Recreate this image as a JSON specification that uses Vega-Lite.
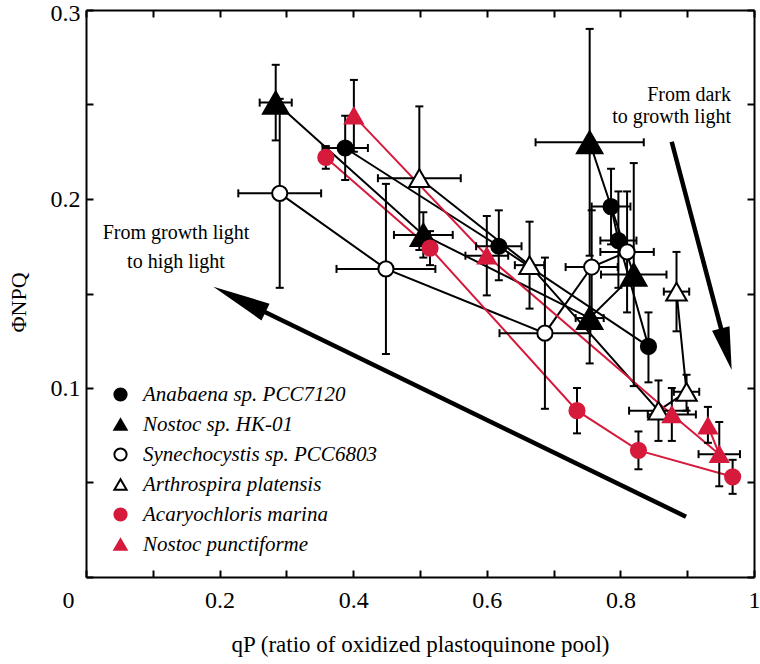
{
  "$schema": "https://vega.github.io/schema/vega-lite/v6.json",
  "width": 668,
  "height": 567,
  "autosize": {"type": "none"},
  "padding": {"left": 86, "top": 10, "right": 6, "bottom": 87},
  "background": "white",
  "datasets": {
    "pts": [
      {"species": "Anabaena sp. PCC7120", "step": 1, "x": 0.786, "y": 0.196, "ylo": 0.176, "yhi": 0.216, "xlo": 0.757, "xhi": 0.815},
      {"species": "Anabaena sp. PCC7120", "step": 2, "x": 0.797, "y": 0.178, "ylo": 0.153, "yhi": 0.204, "xlo": 0.770, "xhi": 0.824},
      {"species": "Anabaena sp. PCC7120", "step": 3, "x": 0.842, "y": 0.122, "ylo": 0.103, "yhi": 0.140},
      {"species": "Anabaena sp. PCC7120", "step": 4, "x": 0.618, "y": 0.175, "ylo": 0.157, "yhi": 0.194, "xlo": 0.584, "xhi": 0.652},
      {"species": "Anabaena sp. PCC7120", "step": 5, "x": 0.388, "y": 0.227, "ylo": 0.210, "yhi": 0.244, "xlo": 0.354, "xhi": 0.422},
      {"species": "Nostoc sp. HK-01", "step": 1, "x": 0.754, "y": 0.230, "ylo": 0.170, "yhi": 0.290, "xlo": 0.673, "xhi": 0.835},
      {"species": "Nostoc sp. HK-01", "step": 2, "x": 0.820, "y": 0.160, "ylo": 0.101, "yhi": 0.219, "xlo": 0.771, "xhi": 0.869},
      {"species": "Nostoc sp. HK-01", "step": 3, "x": 0.754, "y": 0.137, "ylo": 0.113, "yhi": 0.161, "xlo": 0.733, "xhi": 0.775},
      {"species": "Nostoc sp. HK-01", "step": 4, "x": 0.505, "y": 0.181, "ylo": 0.169, "yhi": 0.193, "xlo": 0.461, "xhi": 0.549},
      {"species": "Nostoc sp. HK-01", "step": 5, "x": 0.284, "y": 0.251, "ylo": 0.231, "yhi": 0.271, "xlo": 0.260, "xhi": 0.308},
      {"species": "Synechocystis sp. PCC6803", "step": 1, "x": 0.810, "y": 0.172, "ylo": 0.140, "yhi": 0.204, "xlo": 0.770, "xhi": 0.850},
      {"species": "Synechocystis sp. PCC6803", "step": 2, "x": 0.757, "y": 0.164, "ylo": 0.134, "yhi": 0.194, "xlo": 0.718, "xhi": 0.796},
      {"species": "Synechocystis sp. PCC6803", "step": 3, "x": 0.687, "y": 0.129, "ylo": 0.089, "yhi": 0.169, "xlo": 0.619, "xhi": 0.755},
      {"species": "Synechocystis sp. PCC6803", "step": 4, "x": 0.449, "y": 0.163, "ylo": 0.118, "yhi": 0.208, "xlo": 0.375, "xhi": 0.523},
      {"species": "Synechocystis sp. PCC6803", "step": 5, "x": 0.290, "y": 0.203, "ylo": 0.153, "yhi": 0.253, "xlo": 0.228, "xhi": 0.352},
      {"species": "Arthrospira platensis", "step": 1, "x": 0.884, "y": 0.151, "ylo": 0.130, "yhi": 0.172, "xlo": 0.865, "xhi": 0.903},
      {"species": "Arthrospira platensis", "step": 2, "x": 0.899, "y": 0.098, "ylo": 0.088, "yhi": 0.107, "xlo": 0.880, "xhi": 0.918},
      {"species": "Arthrospira platensis", "step": 3, "x": 0.857, "y": 0.088, "ylo": 0.072, "yhi": 0.104, "xlo": 0.813, "xhi": 0.901},
      {"species": "Arthrospira platensis", "step": 4, "x": 0.664, "y": 0.165, "ylo": 0.142, "yhi": 0.188, "xlo": 0.642, "xhi": 0.686},
      {"species": "Arthrospira platensis", "step": 5, "x": 0.499, "y": 0.211, "ylo": 0.173, "yhi": 0.249, "xlo": 0.437, "xhi": 0.561},
      {"species": "Acaryochloris marina", "step": 1, "x": 0.968, "y": 0.053, "ylo": 0.044, "yhi": 0.062},
      {"species": "Acaryochloris marina", "step": 2, "x": 0.827, "y": 0.067, "ylo": 0.057, "yhi": 0.077},
      {"species": "Acaryochloris marina", "step": 3, "x": 0.735, "y": 0.088, "ylo": 0.076, "yhi": 0.100},
      {"species": "Acaryochloris marina", "step": 4, "x": 0.515, "y": 0.174, "ylo": 0.165, "yhi": 0.183},
      {"species": "Acaryochloris marina", "step": 5, "x": 0.359, "y": 0.222, "ylo": 0.216, "yhi": 0.228},
      {"species": "Nostoc punctiforme", "step": 1, "x": 0.931, "y": 0.080, "ylo": 0.071, "yhi": 0.090},
      {"species": "Nostoc punctiforme", "step": 2, "x": 0.948, "y": 0.065, "ylo": 0.048, "yhi": 0.082, "xlo": 0.917, "xhi": 0.979},
      {"species": "Nostoc punctiforme", "step": 3, "x": 0.877, "y": 0.086, "ylo": 0.072, "yhi": 0.100, "xlo": 0.841, "xhi": 0.913},
      {"species": "Nostoc punctiforme", "step": 4, "x": 0.600, "y": 0.170, "ylo": 0.149, "yhi": 0.191, "xlo": 0.568, "xhi": 0.632},
      {"species": "Nostoc punctiforme", "step": 5, "x": 0.401, "y": 0.244, "ylo": 0.225, "yhi": 0.263}
    ],
    "arrows": [
      {"id": "high", "x1": 0.8982, "y1": 0.0319, "x2": 0.2624, "y2": 0.1411, "tipx": 0.1906, "tipy": 0.1536},
      {"id": "dark", "x1": 0.8768, "y1": 0.2303, "x2": 0.9525, "y2": 0.1290, "tipx": 0.9666, "tipy": 0.1095}
    ],
    "notes": [
      {"id": "high", "x": 0.1347, "y": 0.1788, "text": "From growth light\nto high light"},
      {"id": "dark", "x": 0.9656, "y": 0.2520, "text": "From dark\nto growth light"}
    ]
  },
  "config": {
    "view": {"stroke": null},
    "font": "Liberation Serif, Times New Roman, Times, serif",
    "axis": {
      "domainColor": "black",
      "domainWidth": 2,
      "tickColor": "black",
      "tickWidth": 2,
      "tickSize": -7,
      "grid": false,
      "labelFont": "Liberation Serif, Times New Roman, Times, serif",
      "labelFontSize": 24,
      "labelColor": "black",
      "titleFont": "Liberation Serif, Times New Roman, Times, serif",
      "titleFontSize": 22,
      "titleFontWeight": "normal",
      "titleColor": "black"
    },
    "legend": {
      "labelFont": "Liberation Serif, Times New Roman, Times, serif",
      "labelFontStyle": "italic",
      "labelFontSize": 21,
      "labelColor": "black",
      "labelLimit": 400,
      "symbolSize": 150,
      "symbolStrokeWidth": 2,
      "rowPadding": 8,
      "labelOffset": 12,
      "padding": 0
    }
  },
  "resolve": {"axis": {"x": "independent", "y": "independent"}},
  "layer": [
    {
      "data": {"name": "pts"},
      "mark": {"type": "point", "opacity": 0},
      "encoding": {
        "x": {
          "field": "x", "type": "quantitative",
          "scale": {"domain": [0, 1], "nice": false, "zero": false},
          "axis": {
            "orient": "bottom",
            "values": [0, 0.1, 0.2, 0.3, 0.4, 0.5, 0.6, 0.7, 0.8, 0.9, 1],
            "format": "~g",
            "labelExpr": "round(datum.value * 10) % 2 == 0 ? datum.label : ''",
            "labelOverlap": false,
            "labelFlush": false,
            "labelPadding": 18,
            "labelOffset": {"condition": {"test": "datum.value == 0", "value": -18}, "value": 0},
            "title": "qP (ratio of oxidized plastoquinone pool)",
            "titleFontSize": 23,
            "titlePadding": 21
          }
        },
        "y": {
          "field": "y", "type": "quantitative",
          "scale": {"domain": [0, 0.3], "nice": false, "zero": false},
          "axis": {
            "orient": "left",
            "values": [0, 0.05, 0.1, 0.15, 0.2, 0.25, 0.3],
            "format": "~g",
            "labelExpr": "datum.value > 0.01 && round(datum.value * 100) % 10 == 0 ? datum.label : ''",
            "labelOverlap": false,
            "labelFlush": false,
            "labelPadding": 13,
            "labelOffset": {"condition": {"test": "datum.value > 0.29", "value": 3}, "value": 0},
            "title": "ΦNPQ",
            "titleX": -68,
            "titleY": 292,
            "titleAngle": -90,
            "titleAlign": "center",
            "titleBaseline": "middle"
          }
        }
      }
    },
    {
      "data": {"name": "pts"},
      "mark": {"type": "point", "opacity": 0},
      "encoding": {
        "x": {
          "field": "x", "type": "quantitative",
          "axis": {"orient": "top", "values": [0, 0.1, 0.2, 0.3, 0.4, 0.5, 0.6, 0.7, 0.8, 0.9, 1], "labels": false, "title": null}
        },
        "y": {
          "field": "y", "type": "quantitative",
          "axis": {"orient": "right", "values": [0, 0.05, 0.1, 0.15, 0.2, 0.25, 0.3], "labels": false, "title": null}
        }
      }
    },
    {
      "data": {"name": "pts"},
      "transform": [{"filter": "datum.species != 'Acaryochloris marina' && datum.species != 'Nostoc punctiforme'"}],
      "mark": {"type": "line", "color": "black", "strokeWidth": 2},
      "encoding": {
        "x": {"field": "x", "type": "quantitative", "axis": null},
        "y": {"field": "y", "type": "quantitative", "axis": null},
        "detail": {"field": "species"},
        "order": {"field": "step", "type": "quantitative"}
      }
    },
    {
      "data": {"name": "pts"},
      "transform": [{"filter": "datum.species == 'Acaryochloris marina' || datum.species == 'Nostoc punctiforme'"}],
      "mark": {"type": "line", "color": "#d61a3c", "strokeWidth": 2},
      "encoding": {
        "x": {"field": "x", "type": "quantitative", "axis": null},
        "y": {"field": "y", "type": "quantitative", "axis": null},
        "detail": {"field": "species"},
        "order": {"field": "step", "type": "quantitative"}
      }
    },
    {
      "data": {"name": "pts"},
      "mark": {"type": "rule", "color": "black", "strokeWidth": 2},
      "encoding": {
        "x": {"field": "x", "type": "quantitative", "axis": null},
        "y": {"field": "ylo", "type": "quantitative", "axis": null},
        "y2": {"field": "yhi"}
      }
    },
    {
      "data": {"name": "pts"},
      "mark": {"type": "tick", "orient": "horizontal", "color": "black", "size": 8, "thickness": 2, "opacity": 1},
      "encoding": {
        "x": {"field": "x", "type": "quantitative", "axis": null},
        "y": {"field": "ylo", "type": "quantitative", "axis": null}
      }
    },
    {
      "data": {"name": "pts"},
      "mark": {"type": "tick", "orient": "horizontal", "color": "black", "size": 8, "thickness": 2, "opacity": 1},
      "encoding": {
        "x": {"field": "x", "type": "quantitative", "axis": null},
        "y": {"field": "yhi", "type": "quantitative", "axis": null}
      }
    },
    {
      "data": {"name": "pts"},
      "transform": [{"filter": "isValid(datum.xlo)"}],
      "mark": {"type": "rule", "color": "black", "strokeWidth": 2},
      "encoding": {
        "x": {"field": "xlo", "type": "quantitative", "axis": null},
        "x2": {"field": "xhi"},
        "y": {"field": "y", "type": "quantitative", "axis": null}
      }
    },
    {
      "data": {"name": "pts"},
      "transform": [{"filter": "isValid(datum.xlo)"}],
      "mark": {"type": "tick", "orient": "vertical", "color": "black", "size": 8, "thickness": 2, "opacity": 1},
      "encoding": {
        "x": {"field": "xlo", "type": "quantitative", "axis": null},
        "y": {"field": "y", "type": "quantitative", "axis": null}
      }
    },
    {
      "data": {"name": "pts"},
      "transform": [{"filter": "isValid(datum.xhi)"}],
      "mark": {"type": "tick", "orient": "vertical", "color": "black", "size": 8, "thickness": 2, "opacity": 1},
      "encoding": {
        "x": {"field": "xhi", "type": "quantitative", "axis": null},
        "y": {"field": "y", "type": "quantitative", "axis": null}
      }
    },
    {
      "data": {"name": "pts"},
      "mark": {"type": "point", "opacity": 1, "strokeWidth": 2},
      "encoding": {
        "x": {"field": "x", "type": "quantitative", "axis": null},
        "y": {"field": "y", "type": "quantitative", "axis": null},
        "shape": {
          "field": "species", "type": "nominal",
          "scale": {
            "domain": ["Anabaena sp. PCC7120", "Nostoc sp. HK-01", "Synechocystis sp. PCC6803", "Arthrospira platensis", "Acaryochloris marina", "Nostoc punctiforme"],
            "range": ["circle", "triangle-up", "circle", "triangle-up", "circle", "triangle-up"]
          },
          "legend": {"orient": "none", "legendX": 24, "legendY": 374, "title": null}
        },
        "fill": {
          "field": "species", "type": "nominal",
          "scale": {
            "domain": ["Anabaena sp. PCC7120", "Nostoc sp. HK-01", "Synechocystis sp. PCC6803", "Arthrospira platensis", "Acaryochloris marina", "Nostoc punctiforme"],
            "range": ["black", "black", "white", "white", "#d61a3c", "#d61a3c"]
          },
          "legend": {"orient": "none", "legendX": 24, "legendY": 374, "title": null}
        },
        "stroke": {
          "field": "species", "type": "nominal",
          "scale": {
            "domain": ["Anabaena sp. PCC7120", "Nostoc sp. HK-01", "Synechocystis sp. PCC6803", "Arthrospira platensis", "Acaryochloris marina", "Nostoc punctiforme"],
            "range": ["black", "black", "black", "black", "#d61a3c", "#d61a3c"]
          },
          "legend": {"orient": "none", "legendX": 24, "legendY": 374, "title": null}
        },
        "size": {
          "field": "species", "type": "nominal",
          "scale": {
            "type": "ordinal",
            "domain": ["Anabaena sp. PCC7120", "Nostoc sp. HK-01", "Synechocystis sp. PCC6803", "Arthrospira platensis", "Acaryochloris marina", "Nostoc punctiforme", "(none)"],
            "range": [230, 650, 230, 420, 230, 320, 0]
          },
          "legend": null
        }
      }
    },
    {
      "data": {"name": "arrows"},
      "mark": {"type": "rule", "color": "black", "strokeWidth": 4.5},
      "encoding": {
        "x": {"field": "x1", "type": "quantitative", "axis": null},
        "y": {"field": "y1", "type": "quantitative", "axis": null},
        "x2": {"field": "x2"},
        "y2": {"field": "y2"}
      }
    },
    {
      "data": {"name": "arrows"},
      "transform": [{"filter": "datum.id == 'high'"}],
      "mark": {"type": "point", "shape": "M0,0L0.32,2L-0.32,2Z", "size": 3364, "angle": 295.9, "filled": true, "color": "black", "opacity": 1, "strokeWidth": 0},
      "encoding": {
        "x": {"field": "tipx", "type": "quantitative", "axis": null},
        "y": {"field": "tipy", "type": "quantitative", "axis": null}
      }
    },
    {
      "data": {"name": "arrows"},
      "transform": [{"filter": "datum.id == 'dark'"}],
      "mark": {"type": "point", "shape": "M0,0L0.42,2L-0.42,2Z", "size": 1849, "angle": 165.3, "filled": true, "color": "black", "opacity": 1, "strokeWidth": 0},
      "encoding": {
        "x": {"field": "tipx", "type": "quantitative", "axis": null},
        "y": {"field": "tipy", "type": "quantitative", "axis": null}
      }
    },
    {
      "data": {"name": "notes"},
      "transform": [{"filter": "datum.id == 'high'"}],
      "mark": {"type": "text", "font": "Liberation Serif, Times New Roman, Times, serif", "fontSize": 20, "align": "center", "baseline": "alphabetic", "lineBreak": "\n", "lineHeight": 29, "color": "black"},
      "encoding": {
        "x": {"field": "x", "type": "quantitative", "axis": null},
        "y": {"field": "y", "type": "quantitative", "axis": null},
        "text": {"field": "text"}
      }
    },
    {
      "data": {"name": "notes"},
      "transform": [{"filter": "datum.id == 'dark'"}],
      "mark": {"type": "text", "font": "Liberation Serif, Times New Roman, Times, serif", "fontSize": 20, "align": "right", "baseline": "alphabetic", "lineBreak": "\n", "lineHeight": 22, "color": "black"},
      "encoding": {
        "x": {"field": "x", "type": "quantitative", "axis": null},
        "y": {"field": "y", "type": "quantitative", "axis": null},
        "text": {"field": "text"}
      }
    }
  ]
}
